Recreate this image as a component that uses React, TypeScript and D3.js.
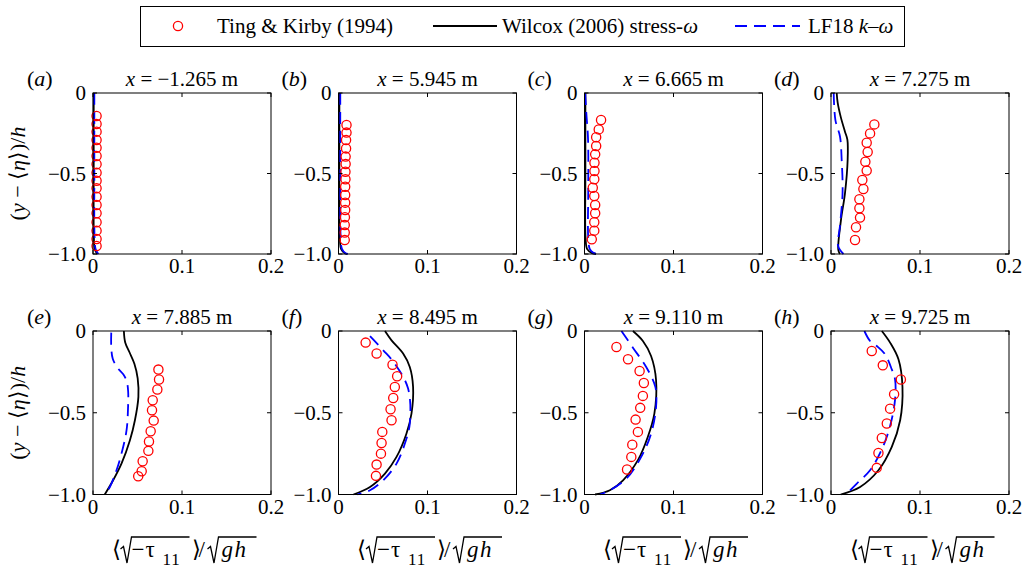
import React from "react";
import * as d3 from "d3";

type Pt = [number, number];

// ---- data -------------------------------------------------------------
const panelLetters = ["a", "b", "c", "d", "e", "f", "g", "h"];
const stations = ["−1.265", "5.945", "6.665", "7.275", "7.885", "8.495", "9.110", "9.725"];

const xTicks = [0, 0.1, 0.2];
const yTicks = [0, -0.5, -1.0];

const legendLabels = ["Ting & Kirby (1994)", "Wilcox (2006) stress-", "LF18 "];

// Ting & Kirby (1994) measurements: [value, (y - <eta>)/h]
const tingA: Pt[] = [
  [0.004, -0.143], [0.004, -0.193], [0.004, -0.24], [0.004, -0.292], [0.004, -0.34],
  [0.004, -0.391], [0.004, -0.443], [0.004, -0.495], [0.004, -0.545], [0.004, -0.592],
  [0.004, -0.644], [0.004, -0.696], [0.004, -0.747], [0.004, -0.803], [0.004, -0.855],
  [0.004, -0.907], [0.004, -0.95],
];
const tingB: Pt[] = [
  [0.009, -0.199], [0.009, -0.246], [0.0085, -0.292], [0.0085, -0.344], [0.008, -0.395],
  [0.008, -0.441], [0.0078, -0.489], [0.0078, -0.536], [0.0075, -0.582], [0.0075, -0.634],
  [0.0075, -0.681], [0.0075, -0.727], [0.0072, -0.772], [0.007, -0.82], [0.007, -0.867],
  [0.007, -0.913],
];
const tingC: Pt[] = [
  [0.0186, -0.168], [0.016, -0.226], [0.0131, -0.275], [0.0131, -0.329], [0.012, -0.381],
  [0.0112, -0.433], [0.0112, -0.484], [0.011, -0.536], [0.0093, -0.588], [0.011, -0.64],
  [0.012, -0.696], [0.012, -0.747], [0.011, -0.803], [0.011, -0.855], [0.0082, -0.909],
];
const tingD: Pt[] = [
  [0.0487, -0.195], [0.0439, -0.251], [0.0401, -0.309], [0.0412, -0.366], [0.0386, -0.427],
  [0.0401, -0.482], [0.0352, -0.54], [0.0364, -0.596], [0.0319, -0.66], [0.0319, -0.716],
  [0.0326, -0.774], [0.0281, -0.834], [0.027, -0.913],
];
const tingE: Pt[] = [
  [0.0735, -0.236], [0.0742, -0.297], [0.0723, -0.358], [0.0671, -0.424], [0.0663, -0.485],
  [0.0682, -0.548], [0.0648, -0.613], [0.0629, -0.676], [0.0622, -0.733], [0.0558, -0.797],
  [0.0547, -0.858], [0.0508, -0.888],
];
const tingF: Pt[] = [
  [0.0305, -0.071], [0.0428, -0.138], [0.0607, -0.206], [0.0659, -0.277], [0.0633, -0.342],
  [0.0615, -0.41], [0.0585, -0.479], [0.0596, -0.546], [0.0492, -0.617], [0.0484, -0.685],
  [0.0477, -0.75], [0.0428, -0.817], [0.0421, -0.886],
];
const tingG: Pt[] = [
  [0.0359, -0.098], [0.0489, -0.173], [0.0619, -0.245], [0.0667, -0.318], [0.0656, -0.397],
  [0.0626, -0.47], [0.0574, -0.542], [0.06, -0.617], [0.0537, -0.695], [0.0526, -0.77],
  [0.0478, -0.847],
];
const tingH: Pt[] = [
  [0.0458, -0.122], [0.0582, -0.21], [0.0785, -0.297], [0.0709, -0.387], [0.0664, -0.475],
  [0.0627, -0.566], [0.0571, -0.654], [0.0533, -0.746], [0.0514, -0.837],
];

// Wilcox (2006) stress-omega profiles
const wilcoxA: Pt[] = [[0.0008, 0], [0.0008, -0.5], [0.001, -0.9], [0.002, -0.97], [0.005, -1]];
const wilcoxB: Pt[] = [[0.001, 0], [0.001, -0.5], [0.0015, -0.9], [0.003, -0.97], [0.007, -0.995], [0.01, -1]];
const wilcoxC: Pt[] = [[0.001, 0], [0.001, -0.5], [0.0012, -0.9], [0.003, -0.97], [0.008, -0.993], [0.013, -1]];
const wilcoxD: Pt[] = [
  [0.0064, 0], [0.0075, -0.06], [0.011, -0.15], [0.0157, -0.24], [0.0184, -0.29], [0.0187, -0.416],
  [0.0157, -0.623], [0.0112, -0.789], [0.0082, -0.975], [0.01, -1],
];
const wilcoxE: Pt[] = [
  [0.0347, 0], [0.0362, -0.07], [0.041, -0.13], [0.0465, -0.2], [0.0502, -0.29], [0.051, -0.403],
  [0.0471, -0.546], [0.0415, -0.668], [0.032, -0.811], [0.0226, -0.913], [0.0132, -1],
];
const wilcoxF: Pt[] = [
  [0.0522, 0], [0.0596, -0.057], [0.0726, -0.138], [0.0801, -0.22], [0.0838, -0.342], [0.082, -0.505],
  [0.0763, -0.628], [0.0652, -0.77], [0.0522, -0.872], [0.0354, -0.954], [0.0168, -1],
];
const wilcoxG: Pt[] = [
  [0.0544, 0], [0.0656, -0.061], [0.0748, -0.153], [0.0804, -0.3], [0.0785, -0.505], [0.0711, -0.648],
  [0.06, -0.79], [0.0433, -0.913], [0.0285, -0.974], [0.0119, -1],
];
const wilcoxH: Pt[] = [
  [0.0571, 0], [0.0664, -0.071], [0.0758, -0.173], [0.0803, -0.342], [0.0777, -0.546], [0.0683, -0.709],
  [0.0533, -0.852], [0.0327, -0.954], [0.0109, -1],
];

// LF18 k-omega profiles
const lf18A: Pt[] = [[0.0015, 0], [0.0015, -0.5], [0.0018, -0.9], [0.003, -0.97], [0.006, -1]];
const lf18B: Pt[] = [[0.002, 0], [0.002, -0.5], [0.0025, -0.9], [0.004, -0.97], [0.008, -0.995], [0.012, -1]];
const lf18C: Pt[] = [
  [0.0008, 0], [0.002, -0.12], [0.004, -0.29], [0.0042, -0.6], [0.0042, -0.9], [0.006, -0.97],
  [0.01, -0.993], [0.014, -1],
];
const lf18D: Pt[] = [
  [0.003, 0], [0.005, -0.17], [0.0101, -0.27], [0.012, -0.416], [0.013, -0.62], [0.01, -0.83],
  [0.008, -0.95], [0.014, -1],
];
const lf18E: Pt[] = [
  [0.0205, -0.01], [0.0205, -0.1], [0.0222, -0.17], [0.0275, -0.225], [0.034, -0.265],
  [0.038, -0.31], [0.0395, -0.37], [0.0394, -0.464], [0.0377, -0.607], [0.032, -0.75],
  [0.0264, -0.852], [0.0189, -0.954], [0.0136, -1],
];
const lf18F: Pt[] = [
  [0.0354, -0.032], [0.0503, -0.118], [0.0633, -0.2], [0.0782, -0.352], [0.0801, -0.566],
  [0.0745, -0.69], [0.0652, -0.811], [0.0503, -0.913], [0.0354, -0.974], [0.0212, -1],
];
const lf18G: Pt[] = [
  [0.0415, 0], [0.0544, -0.102], [0.0693, -0.22], [0.0796, -0.342], [0.0804, -0.465], [0.0748, -0.628],
  [0.0637, -0.77], [0.047, -0.903], [0.0285, -0.974], [0.0174, -1],
];
const lf18H: Pt[] = [
  [0.0375, 0], [0.0439, -0.061], [0.0514, -0.092], [0.0608, -0.143], [0.0683, -0.235], [0.072, -0.297],
  [0.072, -0.418], [0.0664, -0.581], [0.0571, -0.724], [0.0439, -0.852], [0.029, -0.933], [0.0169, -1],
];

const tingSets = [tingA, tingB, tingC, tingD, tingE, tingF, tingG, tingH];
const wilcoxSets = [wilcoxA, wilcoxB, wilcoxC, wilcoxD, wilcoxE, wilcoxF, wilcoxG, wilcoxH];
const lf18Sets = [lf18A, lf18B, lf18C, lf18D, lf18E, lf18F, lf18G, lf18H];

// ---- layout -----------------------------------------------------------
const WIDTH = 1027;
const HEIGHT = 572;
const SERIF = "Liberation Serif";
const FS = 21;
const colLeft = [93, 338.5, 584.5, 831];
const panelW = 178;
const rowTop = [93, 331];
const rowH = [161, 163.5];
const TICK = 4;
const RED = "#ff0000";
const BLUE = "#0000ff";
const DASH = "12 7";

const fmtTick = (v: number) => (v === 0 ? "0" : d3.format(".1f")(v).replace("-", "−"));

// Text in the serif face used throughout the figure.
function T(props: React.SVGProps<SVGTextElement>) {
  return <text fontFamily={SERIF} style={{ fontFamily: `"${SERIF}"` }} {...props} />;
}

// Radical sign with its overbar, from `start` to `end`, relative to the baseline.
function Radical({ start, end }: { start: number; end: number }) {
  const d = `M${start},-8 L${start + 3},-10.5 L${start + 6.5},6 L${start + 11},-20 H${end}`;
  return <path d={d} fill="none" stroke="#000" strokeWidth={1.3} strokeLinejoin="miter" />;
}

// x-axis label <sqrt(-tau_11)>/sqrt(gh), laid out from its left end.
function XLabel({ cx, base }: { cx: number; base: number }) {
  const total = 145;
  return (
    <g transform={`translate(${cx - total / 2},${base})`}>
      <T x={0} y={0} fontSize={23}>⟨</T>
      <Radical start={9} end={78} />
      <T x={20} y={0} fontSize={23}>−</T>
      <T x={34} y={0} fontSize={23}>τ</T>
      <T x={51} y={8} fontSize={17} letterSpacing={1}>11</T>
      <T x={80} y={0} fontSize={23}>⟩</T>
      <T x={87} y={0} fontSize={23}>/</T>
      <Radical start={96} end={145} />
      <T x={110} y={0} fontSize={23} fontStyle="italic" letterSpacing={1.5}>gh</T>
    </g>
  );
}

function Panel({ idx }: { idx: number }) {
  const row = idx < 4 ? 0 : 1;
  const col = idx % 4;
  const x0 = colLeft[col];
  const y0 = rowTop[row];
  const h = rowH[row];
  const x = d3.scaleLinear().domain([0, 0.2]).range([x0, x0 + panelW]);
  const y = d3.scaleLinear().domain([-1, 0]).range([y0 + h, y0]);
  const line = d3
    .line<Pt>()
    .x((d) => x(d[0]))
    .y((d) => y(d[1]))
    .curve(d3.curveCatmullRom.alpha(0.5));

  return (
    <g>
      <path d={line(wilcoxSets[idx]) || ""} fill="none" stroke="#000" strokeWidth={1.8} />
      <path
        d={line(lf18Sets[idx]) || ""}
        fill="none"
        stroke={BLUE}
        strokeWidth={1.8}
        strokeDasharray={DASH}
      />
      {tingSets[idx].map((d, i) => (
        <circle key={i} cx={x(d[0])} cy={y(d[1])} r={4.6} fill="none" stroke={RED} strokeWidth={1.3} />
      ))}
      <rect x={x0} y={y0} width={panelW} height={h} fill="none" stroke="#000" strokeWidth={1} />
      {xTicks.map((t) => (
        <g key={"xt" + t}>
          <line x1={x(t)} x2={x(t)} y1={y0 + h} y2={y0 + h - TICK} stroke="#000" />
          <line x1={x(t)} x2={x(t)} y1={y0} y2={y0 + TICK} stroke="#000" />
          <T x={x(t)} y={y0 + h + 19} textAnchor="middle" fontSize={FS}>
            {fmtTick(t)}
          </T>
        </g>
      ))}
      {yTicks.map((t) => (
        <g key={"yt" + t}>
          <line x1={x0} x2={x0 + TICK} y1={y(t)} y2={y(t)} stroke="#000" />
          <line x1={x0 + panelW} x2={x0 + panelW - TICK} y1={y(t)} y2={y(t)} stroke="#000" />
          <T x={x0 - 7} y={y(t) + 7} textAnchor="end" fontSize={FS}>
            {fmtTick(t)}
          </T>
        </g>
      ))}
      <T x={x0 + panelW / 2} y={y0 - 7} textAnchor="middle" fontSize={FS}>
        <tspan fontStyle="italic">x</tspan>
        {" = " + stations[idx] + " m"}
      </T>
      <T x={col === 0 ? x0 - 66 : x0 - 57} y={y0 - 7} fontSize={22}>
        {"("}
        <tspan fontStyle="italic">{panelLetters[idx]}</tspan>
        {")"}
      </T>
      {col === 0 && (
        <T transform={`translate(25,${y0 + h / 2}) rotate(-90)`} textAnchor="middle" fontSize={22}>
          {"("}
          <tspan fontStyle="italic">y</tspan>
          {" − ⟨"}
          <tspan fontStyle="italic">η</tspan>
          {"⟩)/"}
          <tspan fontStyle="italic">h</tspan>
        </T>
      )}
      {row === 1 && <XLabel cx={x0 + panelW / 2 + 2} base={557} />}
    </g>
  );
}

export default function App() {
  const legY = 26;
  return (
    <svg width={WIDTH} height={HEIGHT} style={{ position: "absolute", left: 0, top: 0 }}>
      <rect x={0} y={0} width={WIDTH} height={HEIGHT} fill="#fff" />
      {/* legend */}
      <rect x={140.5} y={6.5} width={764} height={40} fill="#fff" stroke="#000" strokeWidth={1} />
      <circle cx={178} cy={legY} r={4.6} fill="none" stroke={RED} strokeWidth={1.3} />
      <T x={217} y={legY + 7} fontSize={FS}>
        {legendLabels[0]}
      </T>
      <line x1={433} x2={497} y1={legY} y2={legY} stroke="#000" strokeWidth={1.8} />
      <T x={502} y={legY + 7} fontSize={FS}>
        {legendLabels[1]}
        <tspan fontStyle="italic">ω</tspan>
      </T>
      <line x1={735} x2={800} y1={legY} y2={legY} stroke={BLUE} strokeWidth={1.8} strokeDasharray={DASH} />
      <T x={808} y={legY + 7} fontSize={FS}>
        {legendLabels[2]}
        <tspan fontStyle="italic">k</tspan>
        {"–"}
        <tspan fontStyle="italic">ω</tspan>
      </T>
      {panelLetters.map((_, i) => (
        <Panel key={i} idx={i} />
      ))}
    </svg>
  );
}
